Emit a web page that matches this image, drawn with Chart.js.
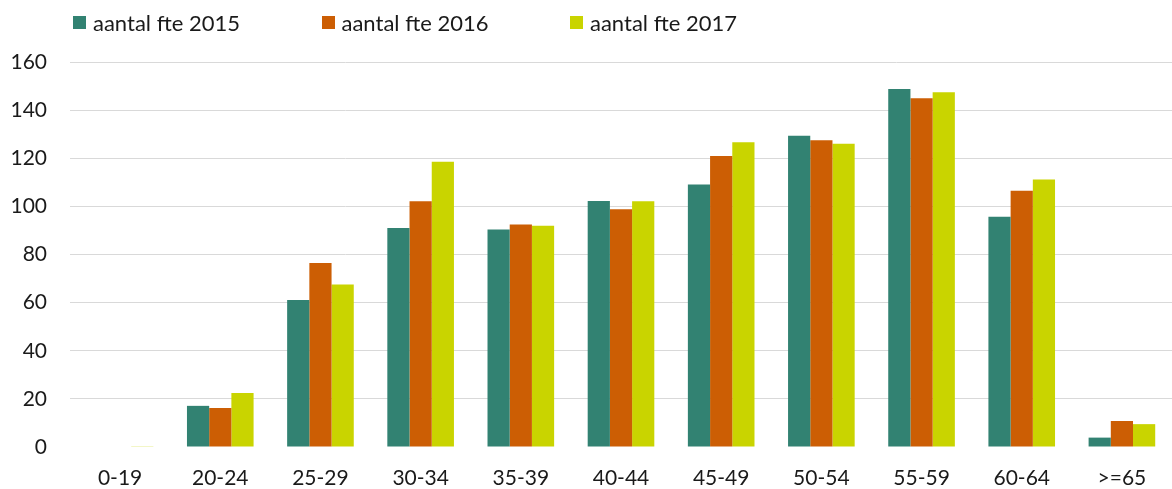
<!DOCTYPE html>
<html>
<head>
<meta charset="utf-8">
<script src="https://cdn.jsdelivr.net/npm/chart.js@4/dist/chart.umd.min.js"></script>
<style>
  body{margin:0;background:#fff;}
  #wrap{position:relative;width:1172px;height:489px;}
  #legend{position:absolute;top:8px;left:73px;display:flex;font-family:Lato,"Open Sans",sans-serif;font-size:22px;color:#1a1a1a;}
  #legend .item{display:flex;align-items:center;height:28px;width:248.5px;}
  #legend .box{width:13px;height:13px;margin-right:7px;}
</style>
</head>
<body>
<div id="wrap">
  <canvas id="chart" width="1172" height="489"></canvas>
  <div id="legend"></div>
</div>
<script>
const ageGroups = ["0-19","20-24","25-29","30-34","35-39","40-44","45-49","50-54","55-59","60-64",">=65"];
const fte2015 = [0, 17.1, 61.1, 91.0, 90.4, 102.2, 109.1, 129.3, 148.8, 95.7, 3.9];
const fte2016 = [0, 16.2, 76.5, 102.1, 92.5, 98.8, 120.9, 127.5, 144.9, 106.5, 10.8];
const fte2017 = [0.3, 22.4, 67.5, 118.5, 91.9, 102.1, 126.7, 126.0, 147.4, 111.2, 9.5];
const seriesNames = ["aantal fte 2015","aantal fte 2016","aantal fte 2017"];
const seriesColors = ["#328272","#CC5E04","#C9D400"];
const yTicks = [0,20,40,60,80,100,120,140,160];

const fontFam = "Lato, 'Open Sans', sans-serif";
const datasets = [fte2015, fte2016, fte2017].map((d,i)=>({
  label: seriesNames[i],
  data: d,
  backgroundColor: seriesColors[i],
  borderWidth: 0,
  categoryPercentage: 0.665,
  barPercentage: 1
}));

// legend as html
const lg = document.getElementById("legend");
seriesNames.forEach((n,i)=>{
  const it = document.createElement("div");
  it.className = "item";
  it.innerHTML = `<span class="box" style="background:${seriesColors[i]}"></span><span>${n}</span>`;
  lg.appendChild(it);
});

const ctx = document.getElementById("chart").getContext("2d");
new Chart(ctx, {
  type: "bar",
  data: { labels: ageGroups, datasets },
  options: {
    responsive: false,
    animation: false,
    layout: { padding: { top: 62, left: 11, right: 0, bottom: 0 } },
    plugins: { legend: { display: false }, tooltip: { enabled: false } },
    scales: {
      x: {
        grid: { display: false, drawTicks: false },
        border: { display: false },
        ticks: { color: "#1a1a1a", font: { family: fontFam, size: 21 }, padding: 19 },
        afterFit: ax => { ax.height = 42; }
      },
      y: {
        min: 0, max: 160,
        afterBuildTicks: ax => { ax.ticks = yTicks.map(v=>({value:v})); },
        grid: { color: c => c.tick && c.tick.value === 0 ? "rgba(0,0,0,0)" : "#d9d9d9", lineWidth: 1, drawTicks: false },
        border: { display: false },
        ticks: { color: "#1a1a1a", font: { family: fontFam, size: 21 }, padding: 23 },
        afterFit: ax => { ax.width = 59; }
      }
    }
  }
});
</script>
</body>
</html>
